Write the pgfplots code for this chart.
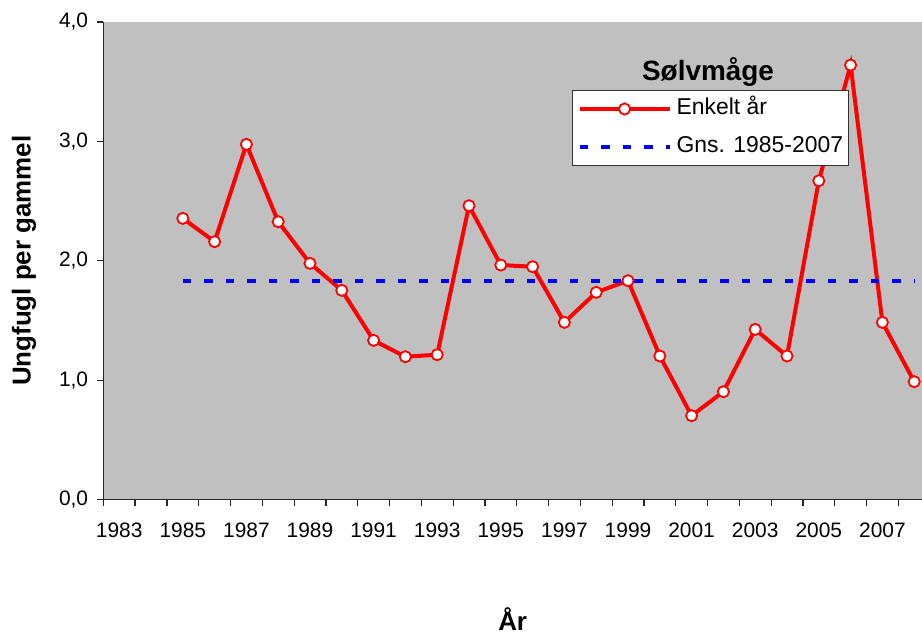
\documentclass[border=0pt]{standalone}
\usepackage{fontspec}
\setmainfont{Liberation Sans}
\usepackage{pgfplots}
\pgfplotsset{compat=1.18}
\definecolor{bg}{RGB}{192,192,192}
\definecolor{myred}{RGB}{255,0,0}
\definecolor{myblue}{RGB}{0,0,255}
\pgfplotsset{
  redleg/.style={legend image code/.code={\draw[mark repeat=2,mark phase=2,##1] plot coordinates {(0bp,0bp) (45bp,0bp) (90bp,0bp)};}},
  blueleg/.style={legend image code/.code={\draw[##1] (0bp,0bp) -- (90bp,0bp);}},
}
\begin{document}
\begin{tikzpicture}
\begin{axis}[
  at={(0,0)}, anchor=south west,
  scale only axis, width=818.7bp, height=477.5bp,
  xmin=1982.5, xmax=2008.245, ymin=0, ymax=4,
  axis x line*=bottom, axis y line*=left,
  axis line style={line width=1.2bp, black!85},
  axis background/.style={fill=bg},
  clip=true,
  tick align=outside,
  major tick length=6bp,
  tick style={line width=1.2bp, black!85},
  xtick={1982.5,1983.5,...,2007.6},
  xticklabels={},
  extra x ticks={1983,1985,1987,1989,1991,1993,1995,1997,1999,2001,2003,2005,2007},
  extra x tick labels={1983,1985,1987,1989,1991,1993,1995,1997,1999,2001,2003,2005,2007},
  extra x tick style={major tick length=0pt, grid=none},
  ytick={0,1,2,3,4},
  yticklabels={{0,0},{1,0},{2,0},{3,0},{4,0}},
  tick label style={font=\fontsize{21}{24}\selectfont, inner sep=0pt},
  xticklabel style={anchor=north, yshift=-23bp},
  yticklabel style={anchor=east, xshift=-9bp},
  xlabel={År},
  ylabel={Ungfugl per gammel},
  xlabel style={at={(axis description cs:0.5,-0.274)}, anchor=base, font=\bfseries\fontsize{26}{30}\selectfont},
  ylabel style={at={(axis description cs:-0.0889,0.5)}, anchor=base, font=\bfseries\fontsize{26}{30}\selectfont},
  legend style={at={(axis description cs:0.572,0.8576)}, anchor=north west,
    draw=black!80, line width=1bp, fill=white,
    font=\fontsize{23}{27}\selectfont,
    inner xsep=5.5bp, inner ysep=8bp, row sep=17bp,
    nodes={inner sep=0pt, text height=16bp, text depth=5bp},
    /tikz/every odd column/.append style={column sep=5bp}},
  legend cell align=left,
]
\addplot[myred, line width=4bp, mark=*, mark size=5.6bp,
  mark options={fill=white, draw=myred, line width=1.8bp, solid}, redleg]
coordinates {
(1985,2.355) (1986,2.16) (1987,2.975) (1988,2.327) (1989,1.978) (1990,1.752)
(1991,1.333) (1992,1.196) (1993,1.213) (1994,2.461) (1995,1.964) (1996,1.95)
(1997,1.484) (1998,1.735) (1999,1.833) (2000,1.202) (2001,0.702) (2002,0.903)
(2003,1.425) (2004,1.202) (2005,2.67) (2006,3.639) (2007,1.484) (2008,0.987)
};
\addlegendentry{Enkelt år}
\addplot[myblue, line width=3.3bp, dash pattern=on 8.5bp off 13bp, blueleg]
coordinates {(1985,1.83) (2008,1.83)};
\addlegendentry{Gns. 1985-2007}
\node[font=\bfseries\fontsize{28}{32}\selectfont, anchor=base] at (rel axis cs:0.7386,0.8785) {Sølvmåge};
\end{axis}
\pgfresetboundingbox
\path[use as bounding box] (-103.3bp,-135.5bp) rectangle (818.7bp,499.5bp);
\end{tikzpicture}
\end{document}
